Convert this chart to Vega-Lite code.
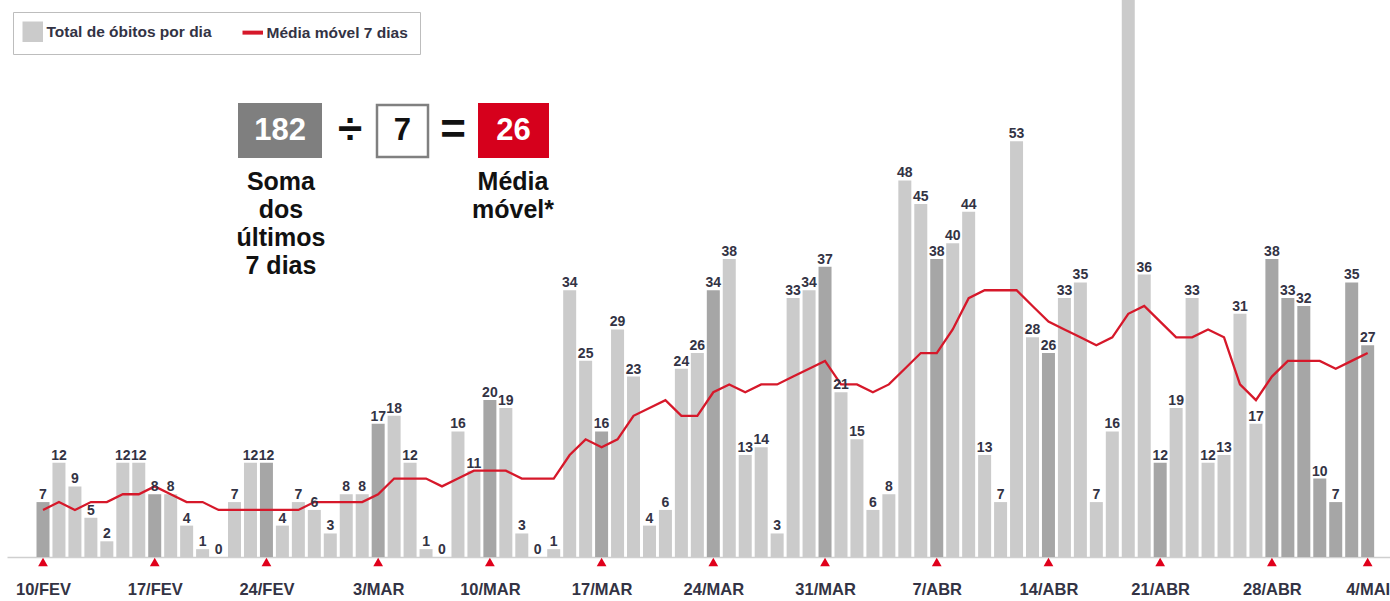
{
  "$schema": "https://vega.github.io/schema/vega-lite/v6.json",
  "width": 1383,
  "height": 557,
  "autosize": {"type": "none"},
  "padding": {"left": 7, "top": 0, "right": 0, "bottom": 44},
  "background": "white",
  "config": {"view": {"stroke": null}, "font": "Liberation Sans"},
  "layer": [
    {
      "data": {
        "format": {"parse": {"data": "utc:'%Y-%m-%d'"}},
        "values": [
          {"data": "2021-02-10", "obitos": 7, "media": 6, "destaque": true, "marco": true},
          {"data": "2021-02-11", "obitos": 12, "media": 7, "destaque": false, "marco": false},
          {"data": "2021-02-12", "obitos": 9, "media": 6, "destaque": false, "marco": false},
          {"data": "2021-02-13", "obitos": 5, "media": 7, "destaque": false, "marco": false},
          {"data": "2021-02-14", "obitos": 2, "media": 7, "destaque": false, "marco": false},
          {"data": "2021-02-15", "obitos": 12, "media": 8, "destaque": false, "marco": false},
          {"data": "2021-02-16", "obitos": 12, "media": 8, "destaque": false, "marco": false},
          {"data": "2021-02-17", "obitos": 8, "media": 9, "destaque": true, "marco": true},
          {"data": "2021-02-18", "obitos": 8, "media": 8, "destaque": false, "marco": false},
          {"data": "2021-02-19", "obitos": 4, "media": 7, "destaque": false, "marco": false},
          {"data": "2021-02-20", "obitos": 1, "media": 7, "destaque": false, "marco": false},
          {"data": "2021-02-21", "obitos": 0, "media": 6, "destaque": false, "marco": false},
          {"data": "2021-02-22", "obitos": 7, "media": 6, "destaque": false, "marco": false},
          {"data": "2021-02-23", "obitos": 12, "media": 6, "destaque": false, "marco": false},
          {"data": "2021-02-24", "obitos": 12, "media": 6, "destaque": true, "marco": true},
          {"data": "2021-02-25", "obitos": 4, "media": 6, "destaque": false, "marco": false},
          {"data": "2021-02-26", "obitos": 7, "media": 6, "destaque": false, "marco": false},
          {"data": "2021-02-27", "obitos": 6, "media": 7, "destaque": false, "marco": false},
          {"data": "2021-02-28", "obitos": 3, "media": 7, "destaque": false, "marco": false},
          {"data": "2021-03-01", "obitos": 8, "media": 7, "destaque": false, "marco": false},
          {"data": "2021-03-02", "obitos": 8, "media": 7, "destaque": false, "marco": false},
          {"data": "2021-03-03", "obitos": 17, "media": 8, "destaque": true, "marco": true},
          {"data": "2021-03-04", "obitos": 18, "media": 10, "destaque": false, "marco": false},
          {"data": "2021-03-05", "obitos": 12, "media": 10, "destaque": false, "marco": false},
          {"data": "2021-03-06", "obitos": 1, "media": 10, "destaque": false, "marco": false},
          {"data": "2021-03-07", "obitos": 0, "media": 9, "destaque": false, "marco": false},
          {"data": "2021-03-08", "obitos": 16, "media": 10, "destaque": false, "marco": false},
          {"data": "2021-03-09", "obitos": 11, "media": 11, "destaque": false, "marco": false},
          {"data": "2021-03-10", "obitos": 20, "media": 11, "destaque": true, "marco": true},
          {"data": "2021-03-11", "obitos": 19, "media": 11, "destaque": false, "marco": false},
          {"data": "2021-03-12", "obitos": 3, "media": 10, "destaque": false, "marco": false},
          {"data": "2021-03-13", "obitos": 0, "media": 10, "destaque": false, "marco": false},
          {"data": "2021-03-14", "obitos": 1, "media": 10, "destaque": false, "marco": false},
          {"data": "2021-03-15", "obitos": 34, "media": 13, "destaque": false, "marco": false},
          {"data": "2021-03-16", "obitos": 25, "media": 15, "destaque": false, "marco": false},
          {"data": "2021-03-17", "obitos": 16, "media": 14, "destaque": true, "marco": true},
          {"data": "2021-03-18", "obitos": 29, "media": 15, "destaque": false, "marco": false},
          {"data": "2021-03-19", "obitos": 23, "media": 18, "destaque": false, "marco": false},
          {"data": "2021-03-20", "obitos": 4, "media": 19, "destaque": false, "marco": false},
          {"data": "2021-03-21", "obitos": 6, "media": 20, "destaque": false, "marco": false},
          {"data": "2021-03-22", "obitos": 24, "media": 18, "destaque": false, "marco": false},
          {"data": "2021-03-23", "obitos": 26, "media": 18, "destaque": false, "marco": false},
          {"data": "2021-03-24", "obitos": 34, "media": 21, "destaque": true, "marco": true},
          {"data": "2021-03-25", "obitos": 38, "media": 22, "destaque": false, "marco": false},
          {"data": "2021-03-26", "obitos": 13, "media": 21, "destaque": false, "marco": false},
          {"data": "2021-03-27", "obitos": 14, "media": 22, "destaque": false, "marco": false},
          {"data": "2021-03-28", "obitos": 3, "media": 22, "destaque": false, "marco": false},
          {"data": "2021-03-29", "obitos": 33, "media": 23, "destaque": false, "marco": false},
          {"data": "2021-03-30", "obitos": 34, "media": 24, "destaque": false, "marco": false},
          {"data": "2021-03-31", "obitos": 37, "media": 25, "destaque": true, "marco": true},
          {"data": "2021-04-01", "obitos": 21, "media": 22, "destaque": false, "marco": false},
          {"data": "2021-04-02", "obitos": 15, "media": 22, "destaque": false, "marco": false},
          {"data": "2021-04-03", "obitos": 6, "media": 21, "destaque": false, "marco": false},
          {"data": "2021-04-04", "obitos": 8, "media": 22, "destaque": false, "marco": false},
          {"data": "2021-04-05", "obitos": 48, "media": 24, "destaque": false, "marco": false},
          {"data": "2021-04-06", "obitos": 45, "media": 26, "destaque": false, "marco": false},
          {"data": "2021-04-07", "obitos": 38, "media": 26, "destaque": true, "marco": true},
          {"data": "2021-04-08", "obitos": 40, "media": 29, "destaque": false, "marco": false},
          {"data": "2021-04-09", "obitos": 44, "media": 33, "destaque": false, "marco": false},
          {"data": "2021-04-10", "obitos": 13, "media": 34, "destaque": false, "marco": false},
          {"data": "2021-04-11", "obitos": 7, "media": 34, "destaque": false, "marco": false},
          {"data": "2021-04-12", "obitos": 53, "media": 34, "destaque": false, "marco": false},
          {"data": "2021-04-13", "obitos": 28, "media": 32, "destaque": false, "marco": false},
          {"data": "2021-04-14", "obitos": 26, "media": 30, "destaque": true, "marco": true},
          {"data": "2021-04-15", "obitos": 33, "media": 29, "destaque": false, "marco": false},
          {"data": "2021-04-16", "obitos": 35, "media": 28, "destaque": false, "marco": false},
          {"data": "2021-04-17", "obitos": 7, "media": 27, "destaque": false, "marco": false},
          {"data": "2021-04-18", "obitos": 16, "media": 28, "destaque": false, "marco": false},
          {"data": "2021-04-19", "obitos": 72, "media": 31, "destaque": false, "marco": false},
          {"data": "2021-04-20", "obitos": 36, "media": 32, "destaque": false, "marco": false},
          {"data": "2021-04-21", "obitos": 12, "media": 30, "destaque": true, "marco": true},
          {"data": "2021-04-22", "obitos": 19, "media": 28, "destaque": false, "marco": false},
          {"data": "2021-04-23", "obitos": 33, "media": 28, "destaque": false, "marco": false},
          {"data": "2021-04-24", "obitos": 12, "media": 29, "destaque": false, "marco": false},
          {"data": "2021-04-25", "obitos": 13, "media": 28, "destaque": false, "marco": false},
          {"data": "2021-04-26", "obitos": 31, "media": 22, "destaque": false, "marco": false},
          {"data": "2021-04-27", "obitos": 17, "media": 20, "destaque": false, "marco": false},
          {"data": "2021-04-28", "obitos": 38, "media": 23, "destaque": true, "marco": true},
          {"data": "2021-04-29", "obitos": 33, "media": 25, "destaque": true, "marco": false},
          {"data": "2021-04-30", "obitos": 32, "media": 25, "destaque": true, "marco": false},
          {"data": "2021-05-01", "obitos": 10, "media": 25, "destaque": true, "marco": false},
          {"data": "2021-05-02", "obitos": 7, "media": 24, "destaque": true, "marco": false},
          {"data": "2021-05-03", "obitos": 35, "media": 25, "destaque": true, "marco": false},
          {"data": "2021-05-04", "obitos": 27, "media": 26, "destaque": true, "marco": true}
        ]
      },
      "encoding": {
        "x": {
          "field": "data",
          "type": "temporal",
          "scale": {
            "type": "utc",
            "nice": false,
            "padding": 0,
            "domain": [
              {"year": 2021, "month": 2, "date": 7, "hours": 17, "minutes": 51, "utc": true},
              {"year": 2021, "month": 5, "date": 5, "hours": 9, "minutes": 36, "utc": true}
            ]
          },
          "axis": {
            "title": null,
            "values": [
              {"year": 2021, "month": 2, "date": 10, "utc": true},
              {"year": 2021, "month": 2, "date": 17, "utc": true},
              {"year": 2021, "month": 2, "date": 24, "utc": true},
              {"year": 2021, "month": 3, "date": 3, "utc": true},
              {"year": 2021, "month": 3, "date": 10, "utc": true},
              {"year": 2021, "month": 3, "date": 17, "utc": true},
              {"year": 2021, "month": 3, "date": 24, "utc": true},
              {"year": 2021, "month": 3, "date": 31, "utc": true},
              {"year": 2021, "month": 4, "date": 7, "utc": true},
              {"year": 2021, "month": 4, "date": 14, "utc": true},
              {"year": 2021, "month": 4, "date": 21, "utc": true},
              {"year": 2021, "month": 4, "date": 28, "utc": true},
              {"year": 2021, "month": 5, "date": 4, "utc": true}
            ],
            "labelExpr": "utcdate(datum.value) + '/' + ['JAN','FEV','MAR','ABR','MAI','JUN'][utcmonth(datum.value)]",
            "ticks": false,
            "grid": false,
            "domainColor": "#cfcfcf",
            "domainWidth": 1.5,
            "labelPadding": 24,
            "labelFont": "Liberation Sans",
            "labelFontSize": 16.5,
            "labelFontWeight": "bold",
            "labelColor": "#333344",
            "labelFlush": false,
            "labelOverlap": false,
            "labelBound": false
          }
        },
        "y": {"field": "obitos", "type": "quantitative", "scale": {"domain": [0, 71], "nice": false, "zero": true}, "axis": null}
      },
      "layer": [
        {
          "transform": [{"filter": "!datum.destaque"}],
          "mark": {"type": "bar", "width": 13, "clip": true},
          "encoding": {
            "color": {
              "datum": "Total de óbitos por dia",
              "scale": {"domain": ["Total de óbitos por dia", "Média móvel 7 dias"], "range": ["#cbcbcb", "#d6182a"]},
              "legend": {
                "title": null,
                "orient": "none",
                "legendX": 6,
                "legendY": 12,
                "direction": "horizontal",
                "strokeColor": "#bdbdbd",
                "fillColor": "white",
                "padding": 12,
                "symbolSize": 420,
                "labelFont": "Liberation Sans",
                "labelFontSize": 15.5,
                "labelFontWeight": "bold",
                "labelColor": "#333344",
                "labelOffset": 6,
                "columnPadding": 22,
                "labelLimit": 300,
                "encode": {
                  "symbols": {
                    "update": {
                      "shape": {"signal": "datum.value === 'Média móvel 7 dias' ? 'stroke' : 'square'"},
                      "fill": {"signal": "datum.value === 'Média móvel 7 dias' ? 'transparent' : '#cbcbcb'"},
                      "stroke": {"signal": "datum.value === 'Média móvel 7 dias' ? '#d6182a' : 'transparent'"},
                      "strokeWidth": {"signal": "datum.value === 'Média móvel 7 dias' ? 4 : 0"},
                      "opacity": {"value": 1}
                    }
                  }
                }
              }
            }
          }
        },
        {
          "transform": [{"filter": "datum.destaque"}],
          "mark": {"type": "bar", "width": 13, "clip": true, "color": "#a6a6a6"}
        },
        {
          "mark": {"type": "line", "strokeWidth": 2.3, "interpolate": "linear"},
          "encoding": {
            "y": {"field": "media", "type": "quantitative"},
            "color": {"datum": "Média móvel 7 dias"}
          }
        },
        {
          "transform": [{"filter": "datum.obitos < 71"}],
          "mark": {"type": "text", "baseline": "alphabetic", "dy": -3, "font": "Liberation Sans", "fontSize": 14, "fontWeight": "bold", "color": "#333344"},
          "encoding": {"text": {"field": "obitos", "type": "quantitative"}}
        },
        {
          "transform": [{"filter": "datum.marco"}],
          "mark": {"type": "point", "shape": "triangle-up", "filled": true, "color": "#e0001b", "size": 95, "yOffset": 5, "opacity": 1},
          "encoding": {"y": {"datum": 0, "type": "quantitative"}}
        }
      ]
    },
    {
      "data": {"values": [{}]},
      "layer": [
        {
          "mark": {"type": "rect", "color": "#7f7f7f"},
          "encoding": {
            "x": {"datum": {"year": 2021, "month": 2, "date": 22, "hours": 5, "minutes": 14, "utc": true}, "type": "temporal"},
            "x2": {"datum": {"year": 2021, "month": 2, "date": 27, "hours": 11, "minutes": 33, "utc": true}},
            "y": {"datum": 57.87, "type": "quantitative"},
            "y2": {"datum": 50.86}
          }
        },
        {
          "mark": {"type": "rect", "fill": "white", "stroke": "#808080", "strokeWidth": 2.5},
          "encoding": {
            "x": {"datum": {"year": 2021, "month": 3, "date": 2, "hours": 22, "minutes": 15, "utc": true}, "type": "temporal"},
            "x2": {"datum": {"year": 2021, "month": 3, "date": 6, "hours": 2, "minutes": 57, "utc": true}},
            "y": {"datum": 57.6, "type": "quantitative"},
            "y2": {"datum": 51.0}
          }
        },
        {
          "mark": {"type": "rect", "color": "#d6001c"},
          "encoding": {
            "x": {"datum": {"year": 2021, "month": 3, "date": 9, "hours": 6, "minutes": 9, "utc": true}, "type": "temporal"},
            "x2": {"datum": {"year": 2021, "month": 3, "date": 13, "hours": 16, "minutes": 54, "utc": true}},
            "y": {"datum": 57.87, "type": "quantitative"},
            "y2": {"datum": 50.86}
          }
        },
        {
          "mark": {"type": "text", "text": "182", "align": "center", "baseline": "middle", "font": "Liberation Sans", "fontSize": 31, "fontWeight": "bold", "color": "white"},
          "encoding": {
            "x": {"datum": {"year": 2021, "month": 2, "date": 24, "hours": 20, "minutes": 24, "utc": true}, "type": "temporal"},
            "y": {"datum": 54.3, "type": "quantitative"}
          }
        },
        {
          "mark": {"type": "text", "text": "÷", "align": "center", "baseline": "middle", "font": "Liberation Sans", "fontSize": 44, "fontWeight": "bold", "color": "#111111"},
          "encoding": {
            "x": {"datum": {"year": 2021, "month": 3, "date": 1, "hours": 5, "minutes": 40, "utc": true}, "type": "temporal"},
            "y": {"datum": 54.3, "type": "quantitative"}
          }
        },
        {
          "mark": {"type": "text", "text": "7", "align": "center", "baseline": "middle", "font": "Liberation Sans", "fontSize": 31, "fontWeight": "bold", "color": "#111111"},
          "encoding": {
            "x": {"datum": {"year": 2021, "month": 3, "date": 4, "hours": 12, "minutes": 36, "utc": true}, "type": "temporal"},
            "y": {"datum": 54.3, "type": "quantitative"}
          }
        },
        {
          "mark": {"type": "text", "text": "=", "align": "center", "baseline": "middle", "font": "Liberation Sans", "fontSize": 44, "fontWeight": "bold", "color": "#111111"},
          "encoding": {
            "x": {"datum": {"year": 2021, "month": 3, "date": 7, "hours": 16, "minutes": 34, "utc": true}, "type": "temporal"},
            "y": {"datum": 54.3, "type": "quantitative"}
          }
        },
        {
          "mark": {"type": "text", "text": "26", "align": "center", "baseline": "middle", "font": "Liberation Sans", "fontSize": 31, "fontWeight": "bold", "color": "white"},
          "encoding": {
            "x": {"datum": {"year": 2021, "month": 3, "date": 11, "hours": 11, "minutes": 31, "utc": true}, "type": "temporal"},
            "y": {"datum": 54.3, "type": "quantitative"}
          }
        },
        {
          "mark": {"type": "text", "text": ["Soma", "dos", "últimos", "7 dias"], "align": "center", "baseline": "alphabetic", "font": "Liberation Sans", "fontSize": 25, "lineHeight": 28, "fontWeight": "bold", "color": "#111111"},
          "encoding": {
            "x": {"datum": {"year": 2021, "month": 2, "date": 24, "hours": 21, "minutes": 50, "utc": true}, "type": "temporal"},
            "y": {"datum": 46.78, "type": "quantitative"}
          }
        },
        {
          "mark": {"type": "text", "text": ["Média", "móvel*"], "align": "center", "baseline": "alphabetic", "font": "Liberation Sans", "fontSize": 25, "lineHeight": 28, "fontWeight": "bold", "color": "#111111"},
          "encoding": {
            "x": {"datum": {"year": 2021, "month": 3, "date": 11, "hours": 10, "minutes": 48, "utc": true}, "type": "temporal"},
            "y": {"datum": 46.78, "type": "quantitative"}
          }
        }
      ]
    }
  ]
}
